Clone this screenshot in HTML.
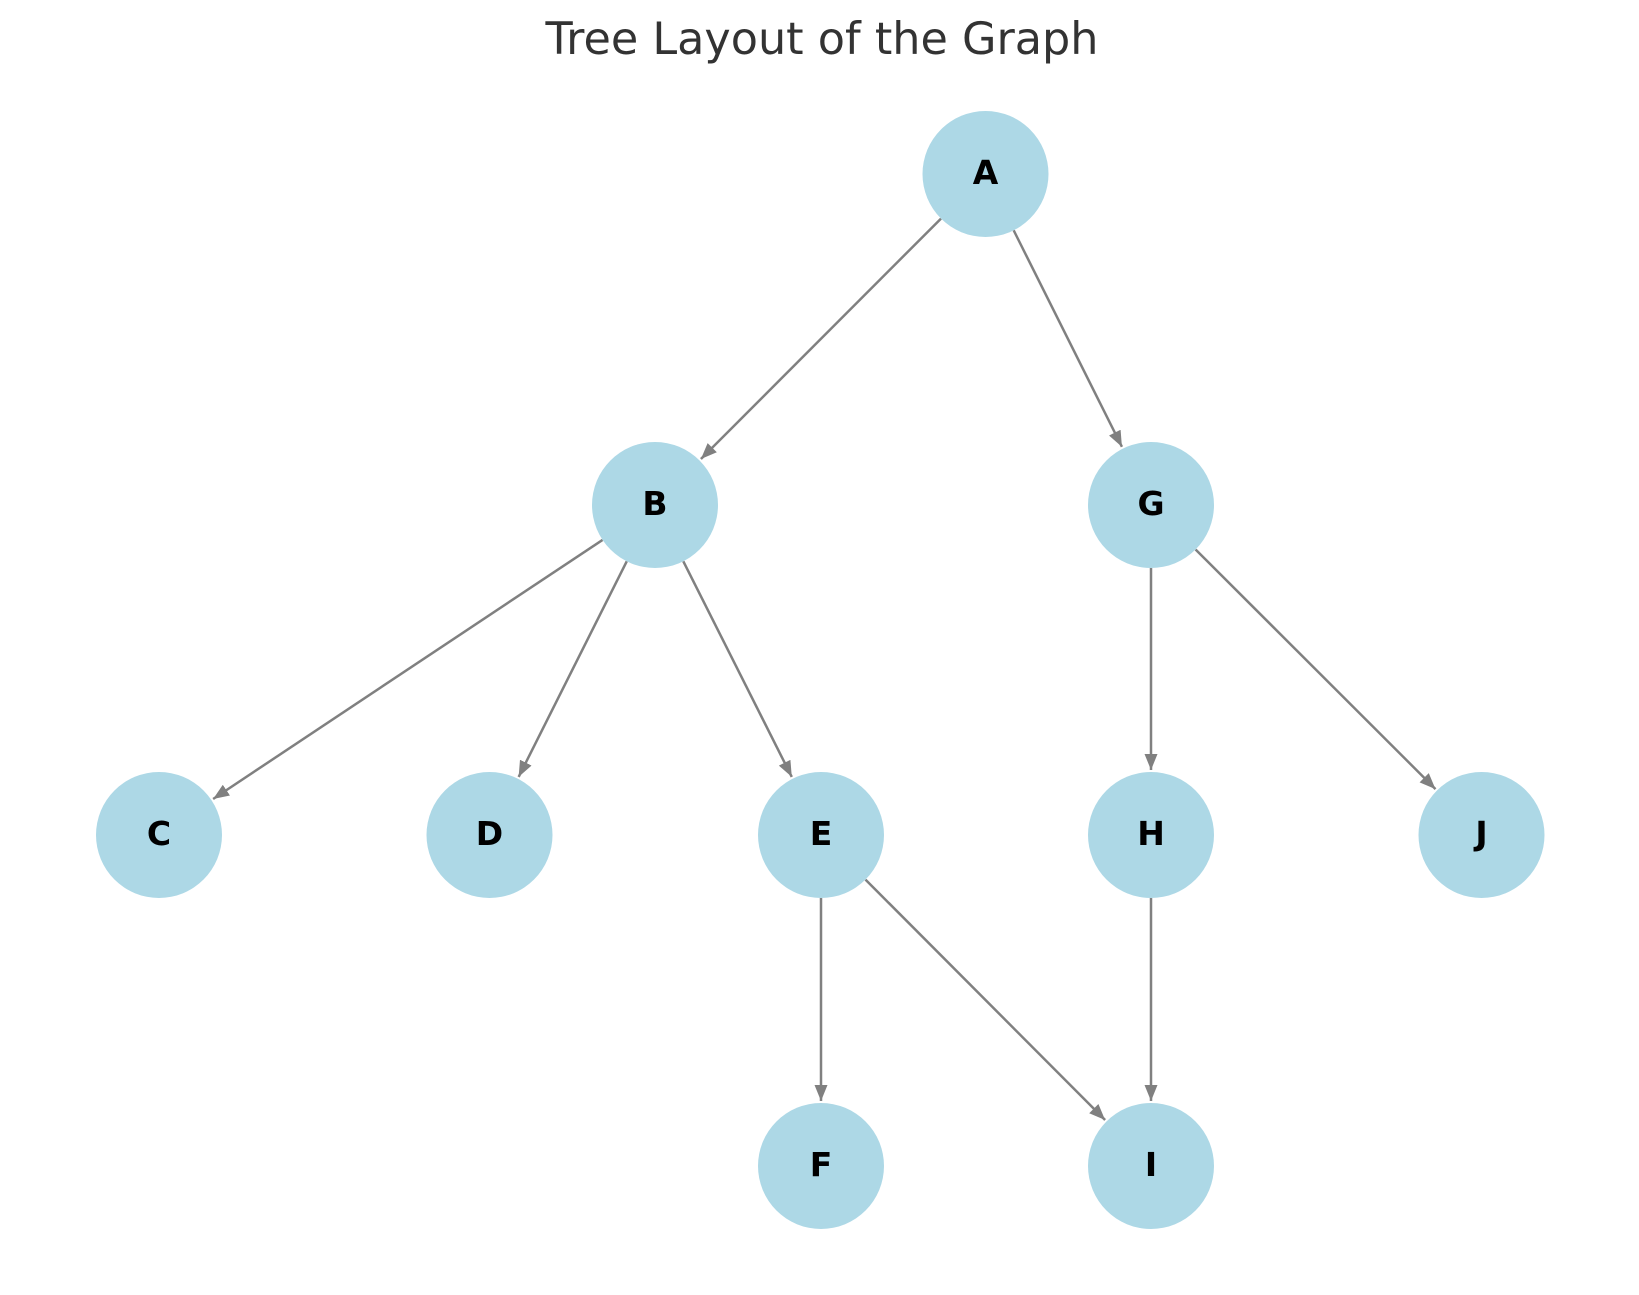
<!DOCTYPE html>
<html><head><style>body{margin:0;background:#fff}</style></head><body>
<svg width="1639" height="1290" viewBox="0 0 1639 1290" xmlns="http://www.w3.org/2000/svg">
<defs>
<marker id="a" viewBox="0 0 16 13" refX="16" refY="6.5" markerWidth="16" markerHeight="13" orient="auto" markerUnits="userSpaceOnUse"><path d="M0,0 L16,6.5 L0,13 z" fill="#808080"/></marker></defs>
<text x="822" y="54" text-anchor="middle" font-family="DejaVu Sans, Liberation Sans, sans-serif" font-size="44.5" fill="#333">Tree Layout of the Graph</text>
<g stroke="#808080" stroke-width="2.5" marker-end="url(#a)" id="edges"></g>
<g id="nodes"></g>
</svg>
<script>
var N={A:[985.5,174],B:[655,505],G:[1151,505],C:[159,835],D:[489.5,835],E:[821,835],H:[1151,835],J:[1481.5,835],F:[821,1166],I:[1151,1166]};
var E=[["A","B"],["A","G"],["B","C"],["B","D"],["B","E"],["G","H"],["G","J"],["E","F"],["E","I"],["H","I"]];
var ns="http://www.w3.org/2000/svg",r=63,eg=document.getElementById("edges"),ng=document.getElementById("nodes");
E.forEach(function(e){var a=N[e[0]],b=N[e[1]],dx=b[0]-a[0],dy=b[1]-a[1],L=Math.hypot(dx,dy),ux=dx/L,uy=dy/L;
var l=document.createElementNS(ns,"line");l.setAttribute("x1",a[0]+ux*r);l.setAttribute("y1",a[1]+uy*r);l.setAttribute("x2",b[0]-ux*(r+2));l.setAttribute("y2",b[1]-uy*(r+2));eg.appendChild(l);});
for(var k in N){var c=document.createElementNS(ns,"circle");c.setAttribute("cx",N[k][0]);c.setAttribute("cy",N[k][1]);c.setAttribute("r",r);c.setAttribute("fill","#add8e6");ng.appendChild(c);
var t=document.createElementNS(ns,"text");t.setAttribute("x",N[k][0]);t.setAttribute("y",N[k][1]+10);t.setAttribute("text-anchor","middle");t.setAttribute("font-family","DejaVu Sans, Liberation Sans, sans-serif");t.setAttribute("font-weight","bold");t.setAttribute("font-size","33");t.textContent=k;ng.appendChild(t);}
</script>
</body></html>
